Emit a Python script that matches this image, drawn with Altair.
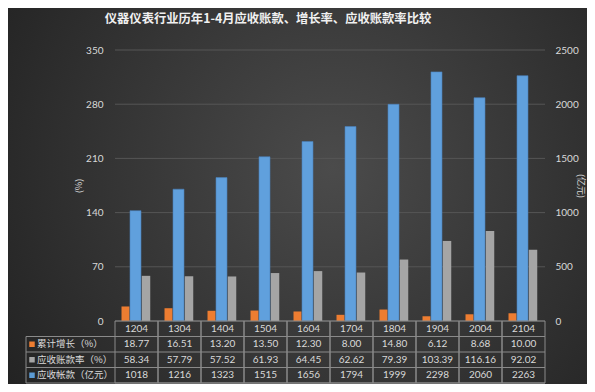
import altair as alt
import pandas as pd

categories = ["1204", "1304", "1404", "1504", "1604", "1704", "1804", "1904", "2004", "2104"]
growth = [18.77, 16.51, 13.20, 13.50, 12.30, 8.00, 14.80, 6.12, 8.68, 10.00]
rate = [58.34, 57.79, 57.52, 61.93, 64.45, 62.62, 79.39, 103.39, 116.16, 92.02]
receivable = [1018, 1216, 1323, 1515, 1656, 1794, 1999, 2298, 2060, 2263]
series_names = ["累计增长（%）", "应收账款率（%）", "应收帐款（亿元）"]
series_colors = ["#ed7d31", "#a5a5a5", "#5b9bd5"]
left_ticks = [0, 70, 140, 210, 280, 350]
right_ticks = [0, 500, 1000, 1500, 2000, 2500]
title_text = "仪器仪表行业历年1-4月应收账款、增长率、应收账款率比较"

W, H = 430, 271
PL, PT, PR, PB = 107, 42, 42, 63
ROW = 15.5
NUMFONT = "Liberation Sans Narrow, Lato, sans-serif"
CJK = "Noto Sans CJK SC"
TXT = "#d9d9d9"
LINE = "#8a8a8a"

df = pd.DataFrame({"cat": categories, "growth": growth, "rate": rate, "recv": receivable})
df["s0"] = [f"{v:.2f}" for v in growth]
df["s1"] = [f"{v:.2f}" for v in rate]
df["s2"] = [f"{v:d}" for v in receivable]
ticks_df = pd.DataFrame({"t": left_ticks})
dummy = pd.DataFrame({"a": [0]})

X = alt.X("cat:N", sort=categories, scale=alt.Scale(paddingInner=0, paddingOuter=0), axis=None)

bg = alt.Chart(dummy).mark_rect(
    fill=alt.Gradient(
        gradient="radial",
        stops=[alt.GradientStop(color="#4b4b4b", offset=0), alt.GradientStop(color="#202020", offset=1)],
        x1=0.56, y1=0.45, r1=0, x2=0.56, y2=0.45, r2=0.72,
    )
).encode(x=alt.value(-PL), x2=alt.value(W + PR), y=alt.value(-PT), y2=alt.value(H + PB))

grid = alt.Chart(ticks_df).mark_rule(color="#565656", strokeWidth=1).encode(
    y=alt.Y("t:Q", scale=alt.Scale(domain=[0, 350]),
            axis=alt.Axis(orient="left", values=left_ticks, grid=False, domain=False, ticks=False, labelColor=TXT,
                          labelFont=NUMFONT, labelFontSize=10, labelPadding=12, zindex=1, format="d",
                          title="(%)", titleColor=TXT, titleFont=CJK, titleFontSize=9, titleFontWeight="normal",
                          titleAngle=270, titleX=-37, titleY=H / 2, titleAlign="center", titleBaseline="middle")),
    x=alt.value(0), x2=alt.value(W),
)
orange = alt.Chart(df).mark_bar(xOffset=-11, width=8, color=series_colors[0]).encode(
    x=X, y=alt.Y("growth:Q", scale=alt.Scale(domain=[0, 350]), axis=None)
)
gray = alt.Chart(df).mark_bar(xOffset=9.5, width=8.5, color=series_colors[1]).encode(
    x=X, y=alt.Y("rate:Q", scale=alt.Scale(domain=[0, 350]), axis=None)
)

blue = alt.Chart(df).mark_bar(xOffset=-1, width=11, color="#60a0dd", stroke="#4a80b8", strokeWidth=0.6).encode(
    x=X,
    y=alt.Y("recv:Q", scale=alt.Scale(domain=[0, 2500]),
            axis=alt.Axis(orient="right", values=right_ticks, grid=False, domain=False, ticks=False, format="d",
                          labelColor=TXT, labelFont=NUMFONT, labelFontSize=10, labelPadding=10, zindex=1,
                          title="(亿元)", titleColor=TXT, titleFont=CJK, titleFontSize=9, titleFontWeight="normal",
                          titleAngle=90, titleX=35, titleY=H / 2, titleAlign="center", titleBaseline="middle")),
)

# table
cells = alt.Chart(df).mark_rect(fillOpacity=0, stroke=LINE, strokeWidth=1).encode(
    x=X, y=alt.value(H), y2=alt.value(H + 4 * ROW)
)
header = alt.Chart(df).mark_text(font=NUMFONT, fontSize=10, color=TXT).encode(
    x=X, y=alt.value(H + ROW / 2), text="cat:N"
)
table_layers = [cells, header]
for i in range(3):
    yc = H + ROW * (i + 1) + ROW / 2
    table_layers.append(
        alt.Chart(df).mark_text(font=NUMFONT, fontSize=10, color=TXT).encode(
            x=X, y=alt.value(yc), text=f"s{i}:N")
    )
    name_df = pd.DataFrame({"name": [series_names[i]]})
    table_layers.append(
        alt.Chart(name_df).mark_text(font=CJK, fontSize=9.5, color=TXT, align="left").encode(
            x=alt.value(-78), y=alt.value(yc), text="name:N")
    )
    table_layers.append(
        alt.Chart(name_df).mark_square(size=30, color=series_colors[i], opacity=1).encode(
            x=alt.value(-83), y=alt.value(yc))
    )
for k in range(1, 5):
    table_layers.append(
        alt.Chart(dummy).mark_rule(color=LINE, strokeWidth=1).encode(
            x=alt.value(-89), x2=alt.value(W), y=alt.value(H + k * ROW))
    )
table_layers.append(
    alt.Chart(dummy).mark_rule(color=LINE, strokeWidth=1).encode(
        x=alt.value(-89), y=alt.value(H + ROW), y2=alt.value(H + 4 * ROW))
)

chart = alt.layer(bg, grid, orange, gray, blue, *table_layers).resolve_scale(y="independent").properties(
    width=W, height=H,
    padding={"left": PL, "top": PT, "right": PR, "bottom": PB},
    autosize=alt.AutoSizeParams(type="none"),
    background="#2a2a2a",
    title=alt.TitleParams(title_text, anchor="middle", dx=-62, offset=0, dy=17, font=CJK, fontSize=12.3,
                          fontWeight="bold", color="#f0f0f0", zindex=1),
).configure_view(stroke=None)

chart.save("out.html", embed_options={"renderer": "svg", "actions": False})
